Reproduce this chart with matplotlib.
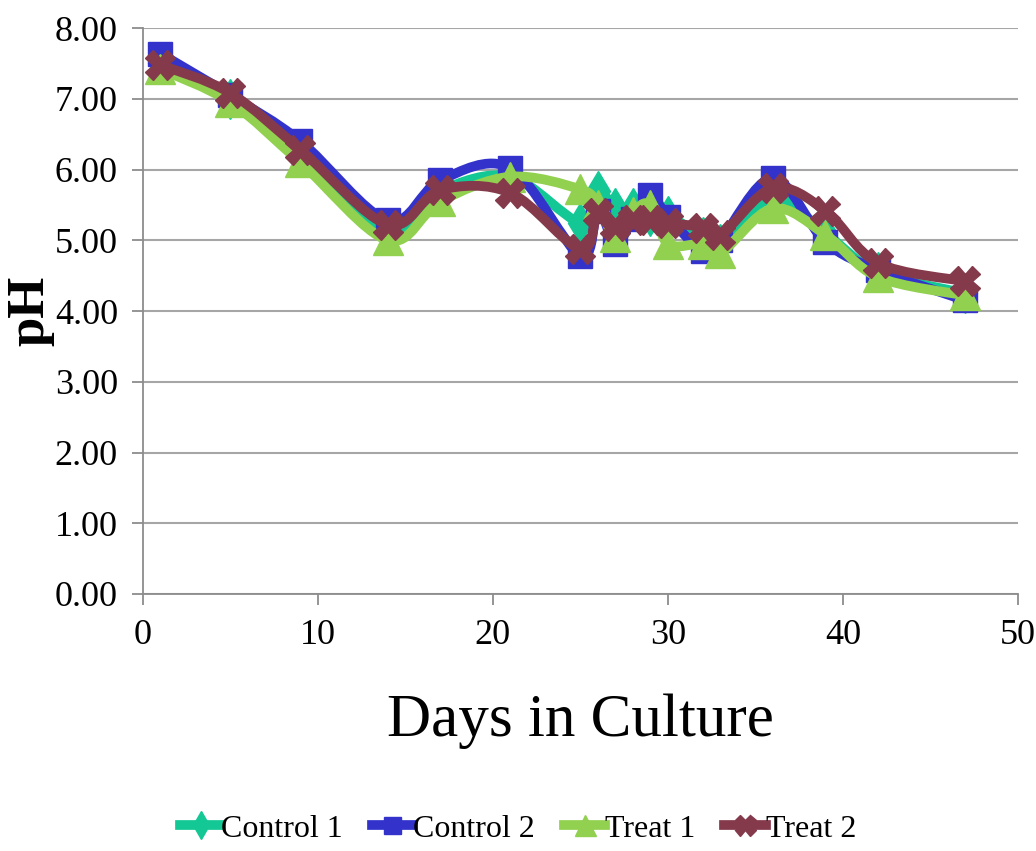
import numpy as np
import matplotlib
matplotlib.use('Agg')
import matplotlib.pyplot as plt
from matplotlib.path import Path
from matplotlib.patches import PathPatch
from matplotlib.lines import Line2D

plt.rcParams['font.family'] = ['Liberation Serif', 'DejaVu Serif']

# days in culture
days = [1, 5, 9, 14, 17, 21, 25, 26, 27, 28, 29, 30, 32, 33, 36, 39, 42, 47]

# pH readings
control1 = [7.50, 7.00, 6.20, 5.15, 5.70, 5.90, 5.25, 5.70, 5.45, 5.45, 5.35, 5.35, 5.05, 4.95, 5.60, 5.10, 4.55, 4.25]
control2 = [7.64, 7.05, 6.40, 5.28, 5.85, 6.02, 4.78, 5.42, 4.95, 5.30, 5.64, 5.33, 4.85, 5.00, 5.88, 4.98, 4.58, 4.15]
treat1 = [7.42, 6.95, 6.10, 5.00, 5.55, 5.90, 5.72, 5.50, 5.05, 5.40, 5.50, 4.95, 4.95, 4.82, 5.45, 5.08, 4.48, 4.22]
treat2 = [7.48, 7.08, 6.28, 5.22, 5.71, 5.67, 4.87, 5.38, 5.20, 5.29, 5.29, 5.25, 5.18, 5.07, 5.74, 5.42, 4.68, 4.42]

series = [("Control 1", control1, '#14C896', 'd', 20),
          ("Control 2", control2, '#3333CC', 's', 17),
          ("Treat 1", treat1, '#92D050', '^', 21),
          ("Treat 2", treat2, '#843A4B', 'X', 21)]


def smooth_path(x, y, t=1.0 / 6):
    # excel style smoothed line: cubic bezier through each point
    p = np.column_stack([x, y]).astype(float)
    n = len(p)
    verts = [p[0]]
    codes = [Path.MOVETO]
    for i in range(n - 1):
        p0 = p[i - 1] if i > 0 else p[i]
        p3 = p[i + 2] if i + 2 < n else p[i + 1]
        c1 = p[i] + (p[i + 1] - p0) * t
        c2 = p[i + 1] - (p3 - p[i]) * t
        verts += [c1, c2, p[i + 1]]
        codes += [Path.CURVE4] * 3
    return Path(verts, codes)


fig = plt.figure(figsize=(10.36, 8.51), dpi=100)
ax = fig.add_axes([0.138, 0.302, 0.8445, 0.665])

handles = []
for k, (name, vals, col, mk, ms) in enumerate(series):
    z = 3 + k
    ax.add_patch(PathPatch(smooth_path(days, vals), facecolor='none', edgecolor=col,
                           lw=7, capstyle='round', joinstyle='round', zorder=z))
    ax.plot(days, vals, ls='none', marker=mk, ms=ms, color=col, mec=col, zorder=z)
    handles.append(Line2D([], [], color=col, lw=7, marker=mk, ms=ms * 0.72, mec=col))

ax.set_xlim(0, 50)
ax.set_ylim(0, 8)
ax.set_xticks(range(0, 51, 10))
ax.set_yticks(range(0, 9))
ax.set_yticklabels(['%.2f' % v for v in range(0, 9)])
ax.grid(axis='y', color='#A6A6A6', lw=1.5)
ax.set_axisbelow(True)
for s in ['top', 'right']:
    ax.spines[s].set_visible(False)
for s in ['left', 'bottom']:
    ax.spines[s].set_color('#8C8C8C')
    ax.spines[s].set_linewidth(1.3)
ax.tick_params(axis='both', colors='#8C8C8C', length=8, width=1.3, labelsize=26,
               labelcolor='black')
ax.tick_params(axis='x', pad=10)
ax.tick_params(axis='y', pad=10)

ax.set_xlabel('Days in Culture', fontsize=44, labelpad=30)
ax.set_ylabel('pH', fontsize=38, fontweight='bold', labelpad=0)

fig.legend(handles, [s[0] for s in series], loc='lower center', ncol=4,
           bbox_to_anchor=(0.5, -0.025), frameon=False, fontsize=23,
           handlelength=1.3, handletextpad=0.0, columnspacing=0.9)

plt.savefig('out.png', dpi=100)
